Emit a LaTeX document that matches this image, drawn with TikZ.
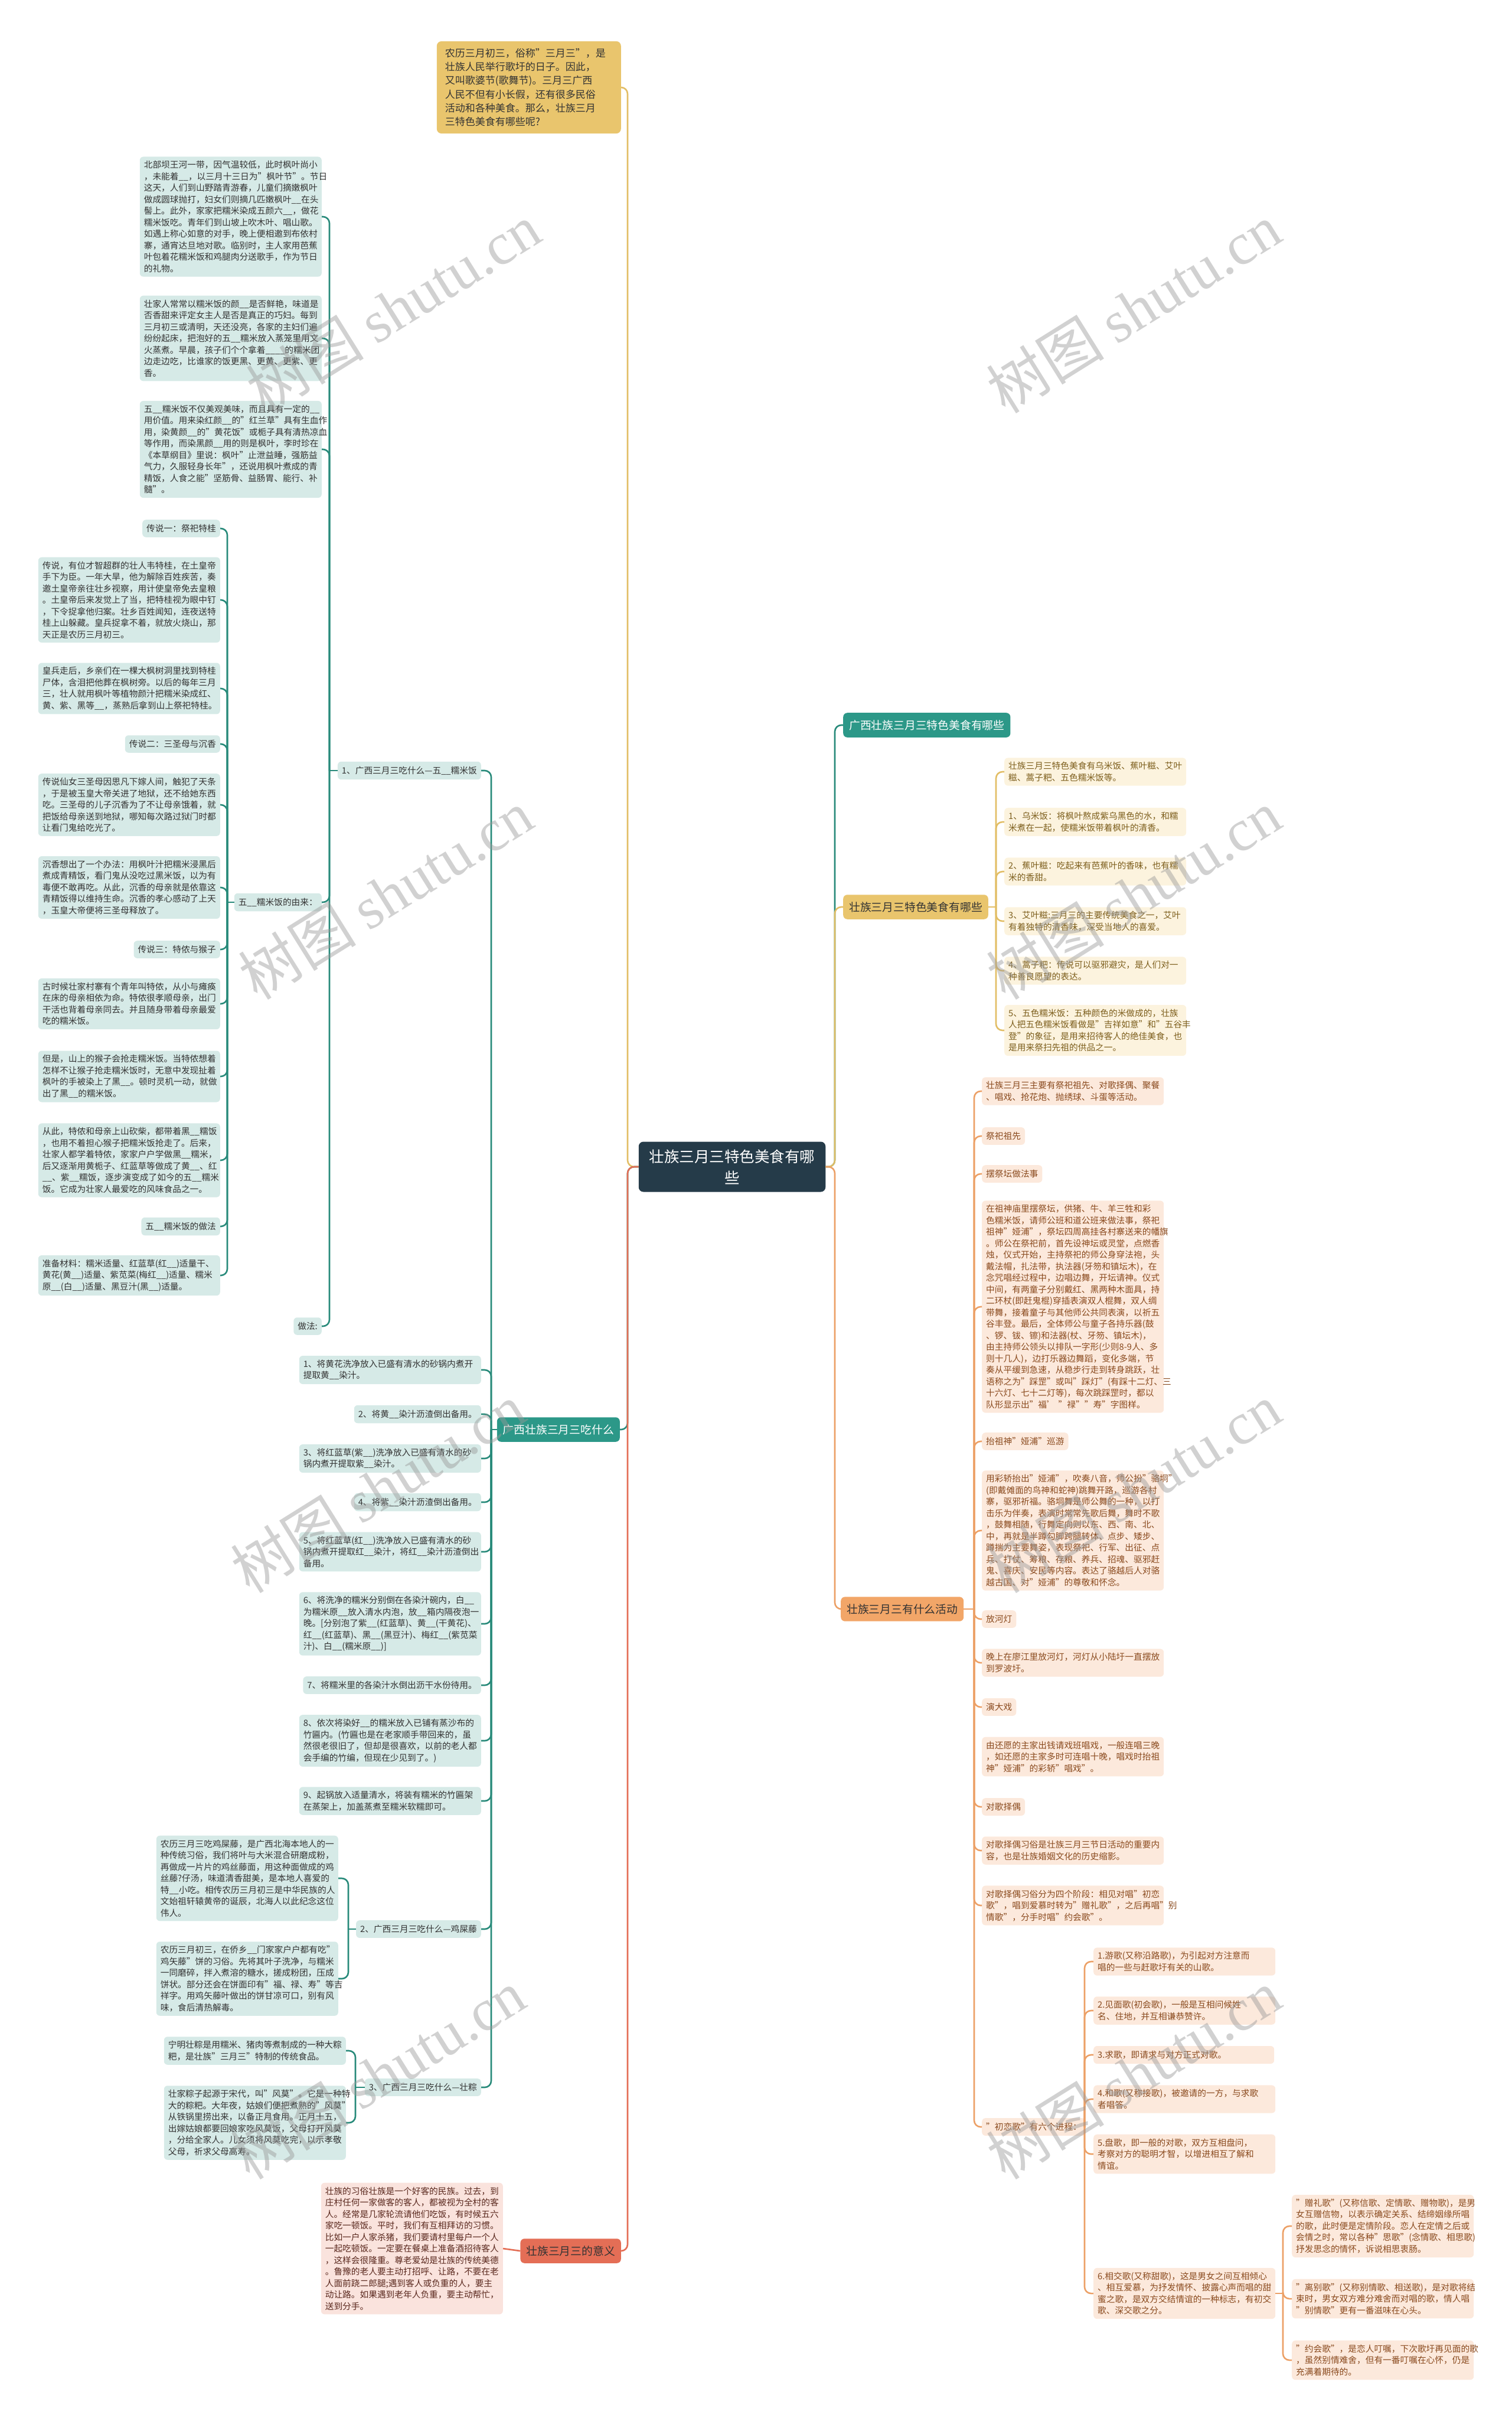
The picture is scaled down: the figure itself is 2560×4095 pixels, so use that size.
\documentclass[tikz,border=0pt]{standalone}
\usepackage{fontspec}
\setmainfont{Noto Sans CJK SC}
\newfontfamily\wmfont{Liberation Serif}
\usepackage{tikz}
\definecolor{hubNavy}{RGB}{37, 59, 73}
\definecolor{zhTeal}{RGB}{44, 152, 136}
\definecolor{zhTealLn}{RGB}{40, 138, 122}
\definecolor{zhTealLt}{RGB}{214, 234, 231}
\definecolor{zhGold}{RGB}{233, 197, 109}
\definecolor{zhGoldLn}{RGB}{226, 190, 102}
\definecolor{zhGoldLt}{RGB}{252, 243, 222}
\definecolor{zhGoldTx}{RGB}{125, 94, 28}
\definecolor{zhOrange}{RGB}{242, 166, 104}
\definecolor{zhOrangeLn}{RGB}{236, 160, 102}
\definecolor{zhOrangeLt}{RGB}{252, 233, 220}
\definecolor{zhOrangeTx}{RGB}{138, 74, 30}
\definecolor{zhRed}{RGB}{228, 110, 86}
\definecolor{zhRedLt}{RGB}{250, 227, 221}
\definecolor{zhRedTx}{RGB}{90, 40, 30}
\definecolor{txtDark}{RGB}{51, 51, 51}
\newcommand{\blnk}{\_\_}
\tikzset{
  hubbox/.style={rectangle, fill=hubNavy, text=white, inner xsep=18pt, inner ysep=13pt,
                 rounded corners=8pt, align=center, font=\fontsize{25.5}{36}\selectfont},
  topicT/.style={rectangle, fill=zhTeal, text=white, inner xsep=10pt, inner ysep=12pt,
                 rounded corners=7pt, font=\fontsize{18.8}{24}\selectfont},
  topicY/.style={rectangle, fill=zhGold, text=txtDark, inner xsep=10pt, inner ysep=12pt,
                 rounded corners=7pt, font=\fontsize{18.8}{24}\selectfont},
  topicO/.style={rectangle, fill=zhOrange, text=txtDark, inner xsep=10pt, inner ysep=12pt,
                 rounded corners=7pt, font=\fontsize{18.8}{24}\selectfont},
  topicR/.style={rectangle, fill=zhRed, text=txtDark, inner xsep=10pt, inner ysep=12pt,
                 rounded corners=7pt, font=\fontsize{18.8}{24}\selectfont},
  noteY/.style={rectangle, fill=zhGold, text=txtDark, text width=284pt, inner xsep=14pt,
                inner ysep=12pt, rounded corners=8pt, align=left, font=\fontsize{17}{23.3}\selectfont},
  leafT/.style={rectangle, fill=zhTealLt, text=txtDark, text width=294pt, inner xsep=7pt,
                inner ysep=7pt, rounded corners=6pt, align=left, font=\fontsize{14.7}{19.5}\selectfont},
  tagT/.style={rectangle, fill=zhTealLt, text=txtDark, inner xsep=7pt, inner ysep=8pt,
               rounded corners=6pt, font=\fontsize{14.7}{19.5}\selectfont},
  leafY/.style={rectangle, fill=zhGoldLt, text=zhGoldTx, text width=294pt, inner xsep=7pt,
                inner ysep=7pt, rounded corners=6pt, align=left, font=\fontsize{14.7}{19.5}\selectfont},
  leafO/.style={rectangle, fill=zhOrangeLt, text=zhOrangeTx, text width=294pt, inner xsep=7pt,
                inner ysep=7pt, rounded corners=6pt, align=left, font=\fontsize{14.7}{19.5}\selectfont},
  tagO/.style={rectangle, fill=zhOrangeLt, text=zhOrangeTx, inner xsep=7pt, inner ysep=8pt,
               rounded corners=6pt, font=\fontsize{14.7}{19.5}\selectfont},
  leafR/.style={rectangle, fill=zhRedLt, text=zhRedTx, text width=294pt, inner xsep=7pt,
                inner ysep=7pt, rounded corners=6pt, align=left, font=\fontsize{14.7}{19.5}\selectfont},
  linkT/.style={draw=zhTealLn, line width=2.6pt, rounded corners=11pt},
  linkY/.style={draw=zhGoldLn, line width=2.6pt, rounded corners=11pt},
  linkO/.style={draw=zhOrangeLn, line width=2.6pt, rounded corners=11pt},
  linkR/.style={draw=zhRed, line width=2.6pt, rounded corners=11pt},
  wmark/.style={text=black!40, text opacity=0.45, font=\fontsize{100}{100}\selectfont},
}

\begin{document}
\begin{tikzpicture}[x=1pt, y=-1pt]
  \useasboundingbox (0,0) rectangle (2560,4095);

  % hub and intro
  \node[hubbox] (hub) at (1240,1976) {壮族三月三特色美食有哪\\些};
  \node[noteY, anchor=east] (intro) at (1052,148) {
    农历三月初三，俗称"三月三"，是\\
    壮族人民举行歌圩的日子。因此，\\
    又叫歌婆节(歌舞节)。三月三广西\\
    人民不但有小长假，还有很多民俗\\
    活动和各种美食。那么，壮族三月\\
    三特色美食有哪些呢?
  };

  % ---- left: what to eat
  \node[topicT, anchor=east] (eat) at (1050,2421) {广西壮族三月三吃什么};
  \node[tagT, anchor=east] (rice) at (815,1305) {1、广西三月三吃什么—五\blnk{}糯米饭};

  \node[leafT, anchor=east] (riceA) at (545,367) {
    北部坝王河一带，因气温较低，此时枫叶尚小\\
    ，未能着\blnk{}，以三月十三日为"枫叶节"。节日\\
    这天，人们到山野踏青游春，儿童们摘嫩枫叶\\
    做成圆球抛打，妇女们则摘几匹嫩枫叶\blnk{}在头\\
    髻上。此外，家家把糯米染成五颜六\blnk{}，做花\\
    糯米饭吃。青年们到山坡上吹木叶、唱山歌。\\
    如遇上称心如意的对手，晚上便相邀到布依村\\
    寨，通宵达旦地对歌。临别时，主人家用芭蕉\\
    叶包着花糯米饭和鸡腿肉分送歌手，作为节日\\
    的礼物。
  };
  \node[leafT, anchor=east] (riceB) at (545,573) {
    壮家人常常以糯米饭的颜\blnk{}是否鲜艳，味道是\\
    否香甜来评定女主人是否是真正的巧妇。每到\\
    三月初三或清明，天还没亮，各家的主妇们遍\\
    纷纷起床，把泡好的五\blnk{}糯米放入蒸笼里用文\\
    火蒸煮。早晨，孩子们个个拿着\blnk\blnk{}的糯米团\\
    边走边吃，比谁家的饭更黑、更黄、更紫、更\\
    香。
  };
  \node[leafT, anchor=east] (riceC) at (545,761) {
    五\blnk{}糯米饭不仅美观美味，而且具有一定的\blnk\\
    用价值。用来染红颜\blnk{}的"红兰草"具有生血作\\
    用，染黄颜\blnk{}的"黄花饭"或栀子具有清热凉血\\
    等作用，而染黑颜\blnk{}用的则是枫叶，李时珍在\\
    《本草纲目》里说：枫叶"止泄益睡，强筋益\\
    气力，久服轻身长年"，还说用枫叶煮成的青\\
    精饭，人食之能"坚筋骨、益肠胃、能行、补\\
    髓"。
  };
  \node[tagT, anchor=east] (origin) at (545,1528) {五\blnk{}糯米饭的由来：};
  \node[tagT, anchor=east] (method) at (545,2246) {做法:};

  \node[tagT, anchor=east] (lgA) at (373,895) {传说一：祭祀特桂};
  \node[leafT, anchor=east] (lgA1) at (373,1016) {
    传说，有位才智超群的壮人韦特桂，在土皇帝\\
    手下为臣。一年大旱，他为解除百姓疾苦，奏\\
    邀土皇帝亲往壮乡视察，用计使皇帝免去皇粮\\
    。土皇帝后来发觉上了当，把特桂视为眼中钉\\
    ，下令捉拿他归案。壮乡百姓闻知，连夜送特\\
    桂上山躲藏。皇兵捉拿不着，就放火烧山，那\\
    天正是农历三月初三。
  };
  \node[leafT, anchor=east] (lgA2) at (373,1166) {
    皇兵走后，乡亲们在一棵大枫树洞里找到特桂\\
    尸体，含泪把他葬在枫树旁。以后的每年三月\\
    三，壮人就用枫叶等植物颜汁把糯米染成红、\\
    黄、紫、黑等\blnk{}，蒸熟后拿到山上祭祀特桂。
  };
  \node[tagT, anchor=east] (lgB) at (373,1260) {传说二：三圣母与沉香};
  \node[leafT, anchor=east] (lgB1) at (373,1363) {
    传说仙女三圣母因思凡下嫁人间，触犯了天条\\
    ，于是被玉皇大帝关进了地狱，还不给她东西\\
    吃。三圣母的儿子沉香为了不让母亲饿着，就\\
    把饭给母亲送到地狱，哪知每次路过狱门时都\\
    让看门鬼给吃光了。
  };
  \node[leafT, anchor=east] (lgB2) at (373,1503) {
    沉香想出了一个办法：用枫叶汁把糯米浸黑后\\
    煮成青精饭，看门鬼从没吃过黑米饭，以为有\\
    毒便不敢再吃。从此，沉香的母亲就是依靠这\\
    青精饭得以维持生命。沉香的孝心感动了上天\\
    ，玉皇大帝便将三圣母释放了。
  };
  \node[tagT, anchor=east] (lgC) at (373,1608) {传说三：特侬与猴子};
  \node[leafT, anchor=east] (lgC1) at (373,1700) {
    古时候壮家村寨有个青年叫特侬，从小与瘫痪\\
    在床的母亲相依为命。特侬很孝顺母亲，出门\\
    干活也背着母亲同去。并且随身带着母亲最爱\\
    吃的糯米饭。
  };
  \node[leafT, anchor=east] (lgC2) at (373,1823) {
    但是，山上的猴子会抢走糯米饭。当特侬想着\\
    怎样不让猴子抢走糯米饭时，无意中发现扯着\\
    枫叶的手被染上了黑\blnk{}。顿时灵机一动，就做\\
    出了黑\blnk{}的糯米饭。
  };
  \node[leafT, anchor=east] (lgC3) at (373,1965) {
    从此，特侬和母亲上山砍柴，都带着黑\blnk{}糯饭\\
    ，也用不着担心猴子把糯米饭抢走了。后来，\\
    壮家人都学着特侬，家家户户学做黑\blnk{}糯米，\\
    后又逐渐用黄栀子、红蓝草等做成了黄\blnk{}、红\\
    \blnk{}、紫\blnk{}糯饭，逐步演变成了如今的五\blnk{}糯米\\
    饭。它成为壮家人最爱吃的风味食品之一。
  };
  \node[tagT, anchor=east] (howto) at (373,2077) {五\blnk{}糯米饭的做法};
  \node[leafT, anchor=east] (stuff) at (373,2160) {
    准备材料：糯米适量、红蓝草(红\blnk{})适量干、\\
    黄花(黄\blnk{})适量、紫苋菜(梅红\blnk{})适量、糯米\\
    原\blnk{}(白\blnk{})适量、黑豆汁(黑\blnk{})适量。
  };

  \node[leafT, anchor=east] (stepA) at (815,2320) {
    1、将黄花洗净放入已盛有清水的砂锅内煮开\\
    提取黄\blnk{}染汁。
  };
  \node[tagT, anchor=east] (stepB) at (815,2395) {2、将黄\blnk{}染汁沥渣倒出备用。};
  \node[leafT, anchor=east] (stepC) at (815,2470) {
    3、将红蓝草(紫\blnk{})洗净放入已盛有清水的砂\\
    锅内煮开提取紫\blnk{}染汁。
  };
  \node[tagT, anchor=east] (stepD) at (815,2544) {4、将紫\blnk{}染汁沥渣倒出备用。};
  \node[leafT, anchor=east] (stepE) at (815,2628) {
    5、将红蓝草(红\blnk{})洗净放入已盛有清水的砂\\
    锅内煮开提取红\blnk{}染汁，将红\blnk{}染汁沥渣倒出\\
    备用。
  };
  \node[leafT, anchor=east] (stepF) at (815,2750) {
    6、将洗净的糯米分别倒在各染汁碗内，白\blnk\\
    为糯米原\blnk{}放入清水内泡，放\blnk{}箱内隔夜泡一\\
    晚。[分别泡了紫\blnk{}(红蓝草)、黄\blnk{}(干黄花)、\\
    红\blnk{}(红蓝草)、黑\blnk{}(黑豆汁)、梅红\blnk{}(紫苋菜\\
    汁)、白\blnk{}(糯米原\blnk{})]
  };
  \node[tagT, anchor=east] (stepG) at (815,2854) {7、将糯米里的各染汁水倒出沥干水份待用。};
  \node[leafT, anchor=east] (stepH) at (815,2948) {
    8、依次将染好\blnk{}的糯米放入已铺有蒸沙布的\\
    竹匾内。(竹匾也是在老家顺手带回来的，虽\\
    然很老很旧了，但却是很喜欢，以前的老人都\\
    会手编的竹编，但现在少见到了。)
  };
  \node[leafT, anchor=east] (stepI) at (815,3050) {
    9、起锅放入适量清水，将装有糯米的竹匾架\\
    在蒸架上，加盖蒸煮至糯米软糯即可。
  };

  \node[tagT, anchor=east] (vine) at (815,3267) {2、广西三月三吃什么—鸡屎藤};
  \node[leafT, anchor=east] (vineA) at (573,3181) {
    农历三月三吃鸡屎藤，是广西北海本地人的一\\
    种传统习俗，我们将叶与大米混合研磨成粉，\\
    再做成一片片的鸡丝藤面，用这种面做成的鸡\\
    丝藤?仔汤，味道清香甜美，是本地人喜爱的\\
    特\blnk{}小吃。相传农历三月初三是中华民族的人\\
    文始祖轩辕黄帝的诞辰，北海人以此纪念这位\\
    伟人。
  };
  \node[leafT, anchor=east] (vineB) at (573,3351) {
    农历三月初三，在侨乡\blnk{}门家家户户都有吃"\\
    鸡矢藤"饼的习俗。先将其叶子洗净，与糯米\\
    一同磨碎，拌入煮溶的糖水，搓成粉团，压成\\
    饼状。部分还会在饼面印有"福、禄、寿"等吉\\
    祥字。用鸡矢藤叶做出的饼甘凉可口，别有风\\
    味，食后清热解毒。
  };
  \node[tagT, anchor=east] (zong) at (815,3535) {3、广西三月三吃什么—壮粽};
  \node[leafT, anchor=east] (zongA) at (586,3473) {
    宁明壮粽是用糯米、猪肉等煮制成的一种大粽\\
    粑，是壮族"三月三"特制的传统食品。
  };
  \node[leafT, anchor=east] (zongB) at (586,3595) {
    壮家粽子起源于宋代，叫"风莫"。它是一种特\\
    大的粽粑。大年夜，姑娘们便把煮熟的"风莫"\\
    从铁锅里捞出来，以备正月食用。正月十五，\\
    出嫁姑娘都要回娘家吃风莫饭，父母打开风莫\\
    ，分给全家人。儿女须将风莫吃完，以示孝敬\\
    父母，祈求父母高寿。
  };

  % ---- left: meaning
  \node[topicR, anchor=east] (mean) at (1052,3812) {壮族三月三的意义};
  \node[leafR, anchor=east] (meanA) at (852,3808) {
    壮族的习俗壮族是一个好客的民族。过去，到\\
    庄村任何一家做客的客人，都被视为全村的客\\
    人。经常是几家轮流请他们吃饭，有时候五六\\
    家吃一顿饭。平时，我们有互相拜访的习惯。\\
    比如一户人家杀猪，我们要请村里每户一个人\\
    一起吃顿饭。一定要在餐桌上准备酒招待客人\\
    ，这样会很隆重。尊老爱幼是壮族的传统美德\\
    。鲁豫的老人要主动打招呼、让路，不要在老\\
    人面前跷二郎腿;遇到客人或负重的人，要主\\
    动让路。如果遇到老年人负重，要主动帮忙，\\
    送到分手。
  };

  % ---- right: food
  \node[topicT, anchor=west] (gxfood) at (1428,1228) {广西壮族三月三特色美食有哪些};
  \node[topicY, anchor=west] (food) at (1428,1536) {壮族三月三特色美食有哪些};
  \node[leafY, anchor=west] (foodA) at (1701,1307) {
    壮族三月三特色美食有乌米饭、蕉叶糍、艾叶\\
    糍、蒿子粑、五色糯米饭等。
  };
  \node[leafY, anchor=west] (foodB) at (1701,1392) {
    1、乌米饭：将枫叶熬成紫乌黑色的水，和糯\\
    米煮在一起，使糯米饭带着枫叶的清香。
  };
  \node[leafY, anchor=west] (foodC) at (1701,1476) {
    2、蕉叶糍：吃起来有芭蕉叶的香味，也有糯\\
    米的香甜。
  };
  \node[leafY, anchor=west] (foodD) at (1701,1560) {
    3、艾叶糍:三月三的主要传统美食之一，艾叶\\
    有着独特的清香味，深受当地人的喜爱。
  };
  \node[leafY, anchor=west] (foodE) at (1701,1644) {
    4、蒿子粑：传说可以驱邪避灾，是人们对一\\
    种善良愿望的表达。
  };
  \node[leafY, anchor=west] (foodF) at (1701,1745) {
    5、五色糯米饭：五种颜色的米做成的，壮族\\
    人把五色糯米饭看做是"吉祥如意"和"五谷丰\\
    登"的象征，是用来招待客人的绝佳美食，也\\
    是用来祭扫先祖的供品之一。
  };

  % ---- right: activities
  \node[topicO, anchor=west] (act) at (1424,2725) {壮族三月三有什么活动};
  \node[leafO, anchor=west] (actA) at (1663,1848) {
    壮族三月三主要有祭祀祖先、对歌择偶、聚餐\\
    、唱戏、抢花炮、抛绣球、斗蛋等活动。
  };
  \node[tagO, anchor=west] (actB) at (1663,1924) {祭祀祖先};
  \node[tagO, anchor=west] (actC) at (1663,1988) {摆祭坛做法事};
  \node[leafO, anchor=west] (actD) at (1663,2213) {
    在祖神庙里摆祭坛，供猪、牛、羊三牲和彩\\
    色糯米饭，请师公班和道公班来做法事，祭祀\\
    祖神"娅浦"，祭坛四周高挂各村寨送来的幡旗\\
    。师公在祭祀前，首先设神坛或灵堂，点燃香\\
    烛，仪式开始，主持祭祀的师公身穿法袍，头\\
    戴法帽，扎法带，执法器(牙笏和镇坛木)，在\\
    念咒唱经过程中，边唱边舞，开坛请神。仪式\\
    中间，有两童子分别戴红、黑两种木面具，持\\
    二环杖(即赶鬼棍)穿插表演双人棍舞，双人绸\\
    带舞，接着童子与其他师公共同表演，以祈五\\
    谷丰登。最后，全体师公与童子各持乐器(鼓\\
    、锣、钹、镲)和法器(杖、牙笏、镇坛木)，\\
    由主持师公领头以排队一字形(少则8-9人、多\\
    则十几人)，边打乐器边舞蹈，变化多端，节\\
    奏从平缓到急速，从稳步行走到转身跳跃，壮\\
    语称之为"踩罡"或叫"踩灯"(有踩十二灯、三\\
    十六灯、七十二灯等)，每次跳踩罡时，都以\\
    队形显示出"福' "禄""寿"字图样。
  };
  \node[tagO, anchor=west] (actE) at (1663,2441) {抬祖神"娅浦"巡游};
  \node[leafO, anchor=west] (actF) at (1663,2592) {
    用彩轿抬出"娅浦"，吹奏八音，师公扮"骆垌"\\
    (即戴傩面的鸟神和蛇神)跳舞开路，巡游各村\\
    寨，驱邪祈福。骆垌舞是师公舞的一种，以打\\
    击乐为伴奏，表演时常常先歌后舞，舞时不歌\\
    ，鼓舞相随，行舞定向则以东、西、南、北、\\
    中，再就是半蹲勾脚跨腿转体、点步、矮步、\\
    蹲揣为主要舞姿，表现祭祀、行军、出征、点\\
    兵、打仗、筹粮、存粮、养兵、招魂、驱邪赶\\
    鬼、喜庆、安民等内容。表达了骆越后人对骆\\
    越古国、对"娅浦"的尊敬和怀念。
  };
  \node[tagO, anchor=west] (actG) at (1663,2742) {放河灯};
  \node[leafO, anchor=west] (actH) at (1663,2816) {
    晚上在廖江里放河灯，河灯从小陆圩一直摆放\\
    到罗波圩。
  };
  \node[tagO, anchor=west] (actI) at (1663,2891) {演大戏};
  \node[leafO, anchor=west] (actJ) at (1663,2975) {
    由还愿的主家出钱请戏班唱戏，一般连唱三晚\\
    ，如还愿的主家多时可连唱十晚，唱戏时抬祖\\
    神"娅浦"的彩轿"唱戏"。
  };
  \node[tagO, anchor=west] (actK) at (1663,3060) {对歌择偶};
  \node[leafO, anchor=west] (actL) at (1663,3134) {
    对歌择偶习俗是壮族三月三节日活动的重要内\\
    容，也是壮族婚姻文化的历史缩影。
  };
  \node[leafO, anchor=west] (actM) at (1663,3227) {
    对歌择偶习俗分为四个阶段：相见对唱"初恋\\
    歌"，唱到爱慕时转为"赠礼歌"，之后再唱"别\\
    情歌"，分手时唱"约会歌"。
  };
  \node[tagO, anchor=west] (love) at (1663,3602) {"初恋歌"有六个进程：};

  \node[leafO, anchor=west] (loveA) at (1852,3322) {
    1.游歌(又称沿路歌)，为引起对方注意而\\
    唱的一些与赶歌圩有关的山歌。
  };
  \node[leafO, anchor=west] (loveB) at (1852,3405) {
    2.见面歌(初会歌)，一般是互相问候姓\\
    名、住地，并互相谦恭赞许。
  };
  \node[tagO, anchor=west, minimum width=306pt, align=left, text width=292pt] (loveC) at (1852,3480) {3.求歌，即请求与对方正式对歌。};
  \node[leafO, anchor=west] (loveD) at (1852,3555) {
    4.和歌(又称接歌)，被邀请的一方，与求歌\\
    者唱答。
  };
  \node[leafO, anchor=west] (loveE) at (1852,3648) {
    5.盘歌，即一般的对歌，双方互相盘问，\\
    考察对方的聪明才智，以增进相互了解和\\
    情谊。
  };
  \node[leafO, anchor=west] (loveF) at (1852,3884) {
    6.相交歌(又称甜歌)，这是男女之间互相倾心\\
    、相互爱慕，为抒发情怀、披露心声而唱的甜\\
    蜜之歌，是双方交结情谊的一种标志，有初交\\
    歌、深交歌之分。
  };
  \node[leafO, anchor=west] (sweetA) at (2188,3770) {
    "赠礼歌"(又称信歌、定情歌、赠物歌)，是男\\
    女互赠信物，以表示确定关系、结缔姻缘所唱\\
    的歌，此时便是定情阶段。恋人在定情之后或\\
    会情之时，常以各种"思歌"(念情歌、相思歌)\\
    抒发思念的情怀，诉说相思衷肠。
  };
  \node[leafO, anchor=west] (sweetB) at (2188,3893) {
    "离别歌"(又称别情歌、相送歌)，是对歌将结\\
    束时，男女双方难分难舍而对唱的歌，情人唱\\
    "别情歌"更有一番滋味在心头。
  };
  \node[leafO, anchor=west] (sweetC) at (2188,3997) {
    "约会歌"，是恋人叮嘱，下次歌圩再见面的歌\\
    ，虽然别情难舍，但有一番叮嘱在心怀，仍是\\
    充满着期待的。
  };

  % ---- connectors
  \coordinate (hubL) at (1063,1976);
  \coordinate (hubR) at (1414,1976);
  \draw[linkY] (hub.west) -- (hubL) |- (intro.east);
  \draw[linkT] (hub.west) -- (hubL) |- (eat.east);
  \draw[linkR] (hub.west) -- (hubL) |- (mean.east);
  \draw[linkT] (hub.east) -- (hubR) |- (gxfood.west);
  \draw[linkY] (hub.east) -- (hubR) |- (food.west);
  \draw[linkO] (hub.east) -- (hubR) |- (act.west);

  \draw[linkR] (mean.west) -- (meanA.east);

  \coordinate (eatJ) at (832,2421);
  \draw[linkT] (eat.west) -- (eatJ);
  \draw[linkT] (eatJ) |- (rice.east);
  \draw[linkT] (eatJ) |- (stepA.east);
  \draw[linkT] (eatJ) |- (stepB.east);
  \draw[linkT] (eatJ) |- (stepC.east);
  \draw[linkT] (eatJ) |- (stepD.east);
  \draw[linkT] (eatJ) |- (stepE.east);
  \draw[linkT] (eatJ) |- (stepF.east);
  \draw[linkT] (eatJ) |- (stepG.east);
  \draw[linkT] (eatJ) |- (stepH.east);
  \draw[linkT] (eatJ) |- (stepI.east);
  \draw[linkT] (eatJ) |- (vine.east);
  \draw[linkT] (eatJ) |- (zong.east);

  \coordinate (riceJ) at (558,1305);
  \draw[linkT] (rice.west) -- (riceJ);
  \draw[linkT] (riceJ) |- (riceA.east);
  \draw[linkT] (riceJ) |- (riceB.east);
  \draw[linkT] (riceJ) |- (riceC.east);
  \draw[linkT] (riceJ) |- (origin.east);
  \draw[linkT] (riceJ) |- (method.east);

  \coordinate (originJ) at (385,1528);
  \draw[linkT] (origin.west) -- (originJ);
  \draw[linkT] (originJ) |- (lgA.east);
  \draw[linkT] (originJ) |- (lgA1.east);
  \draw[linkT] (originJ) |- (lgA2.east);
  \draw[linkT] (originJ) |- (lgB.east);
  \draw[linkT] (originJ) |- (lgB1.east);
  \draw[linkT] (originJ) |- (lgB2.east);
  \draw[linkT] (originJ) |- (lgC.east);
  \draw[linkT] (originJ) |- (lgC1.east);
  \draw[linkT] (originJ) |- (lgC2.east);
  \draw[linkT] (originJ) |- (lgC3.east);
  \draw[linkT] (originJ) |- (howto.east);
  \draw[linkT] (originJ) |- (stuff.east);

  \coordinate (vineJ) at (590,3267);
  \draw[linkT] (vine.west) -- (vineJ);
  \draw[linkT] (vineJ) |- (vineA.east);
  \draw[linkT] (vineJ) |- (vineB.east);
  \coordinate (zongJ) at (602,3535);
  \draw[linkT] (zong.west) -- (zongJ);
  \draw[linkT] (zongJ) |- (zongA.east);
  \draw[linkT] (zongJ) |- (zongB.east);

  \coordinate (foodJ) at (1687,1536);
  \draw[linkY] (food.east) -- (foodJ);
  \draw[linkY] (foodJ) |- (foodA.west);
  \draw[linkY] (foodJ) |- (foodB.west);
  \draw[linkY] (foodJ) |- (foodC.west);
  \draw[linkY] (foodJ) |- (foodD.west);
  \draw[linkY] (foodJ) |- (foodE.west);
  \draw[linkY] (foodJ) |- (foodF.west);

  \coordinate (actJ) at (1650,2725);
  \draw[linkO] (act.east) -- (actJ);
  \draw[linkO] (actJ) |- (actA.west);
  \draw[linkO] (actJ) |- (actB.west);
  \draw[linkO] (actJ) |- (actC.west);
  \draw[linkO] (actJ) |- (actD.west);
  \draw[linkO] (actJ) |- (actE.west);
  \draw[linkO] (actJ) |- (actF.west);
  \draw[linkO] (actJ) |- (actG.west);
  \draw[linkO] (actJ) |- (actH.west);
  \draw[linkO] (actJ) |- (actI.west);
  \draw[linkO] (actJ) |- (actJ.west);
  \draw[linkO] (actJ) |- (actK.west);
  \draw[linkO] (actJ) |- (actL.west);
  \draw[linkO] (actJ) |- (actM.west);
  \draw[linkO] (actJ) |- (love.west);

  \coordinate (loveJ) at (1837,3602);
  \draw[linkO] (love.east) -- (loveJ);
  \draw[linkO] (loveJ) |- (loveA.west);
  \draw[linkO] (loveJ) |- (loveB.west);
  \draw[linkO] (loveJ) |- (loveC.west);
  \draw[linkO] (loveJ) |- (loveD.west);
  \draw[linkO] (loveJ) |- (loveE.west);
  \draw[linkO] (loveJ) |- (loveF.west);

  \coordinate (sweetJ) at (2173,3884);
  \draw[linkO] (loveF.east) -- (sweetJ);
  \draw[linkO] (sweetJ) |- (sweetA.west);
  \draw[linkO] (sweetJ) |- (sweetB.west);
  \draw[linkO] (sweetJ) |- (sweetC.west);

  % watermark
  \node[wmark, rotate=32] (wmA) at (666,522) {树图 {\wmfont shutu.cn}};
  \node[wmark, rotate=32] (wmB) at (1920,522) {树图 {\wmfont shutu.cn}};
  \node[wmark, rotate=32] (wmC) at (653,1515) {树图 {\wmfont shutu.cn}};
  \node[wmark, rotate=32] (wmD) at (1920,1515) {树图 {\wmfont shutu.cn}};
  \node[wmark, rotate=32] (wmE) at (640,2520) {树图 {\wmfont shutu.cn}};
  \node[wmark, rotate=32] (wmF) at (1920,2520) {树图 {\wmfont shutu.cn}};
  \node[wmark, rotate=32] (wmG) at (640,3513) {树图 {\wmfont shutu.cn}};
  \node[wmark, rotate=32] (wmH) at (1920,3513) {树图 {\wmfont shutu.cn}};
\end{tikzpicture}
\end{document}
